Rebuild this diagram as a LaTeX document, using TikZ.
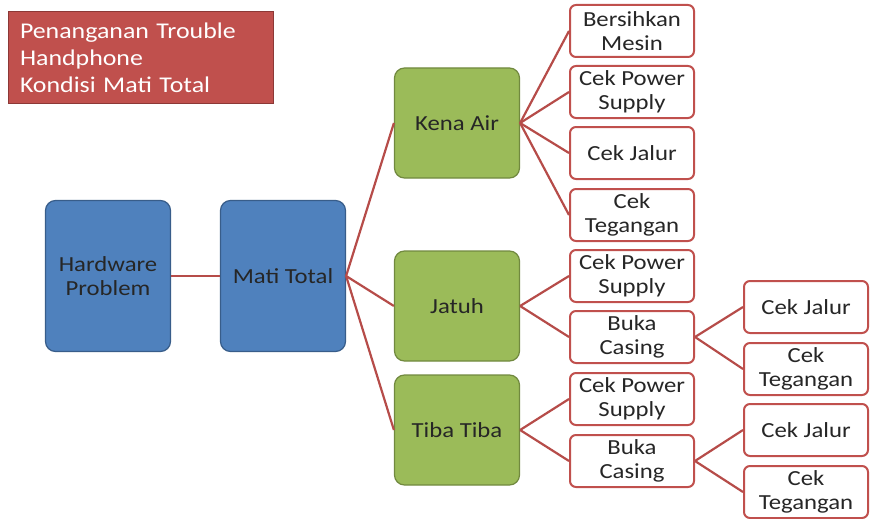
\documentclass[tikz,border=0pt]{standalone}
\usepackage{fontspec}
\setmainfont{Carlito}[FakeStretch=1.15]
\usetikzlibrary{positioning}

\definecolor{hwblue}{HTML}{4F81BD}
\definecolor{hwblueline}{HTML}{385D8A}
\definecolor{hwgreen}{HTML}{9BBB59}
\definecolor{hwgreenline}{HTML}{71893F}
\definecolor{hwred}{HTML}{C0504D}
\definecolor{hwredline}{HTML}{8C3836}

\begin{document}
\begin{tikzpicture}[
  x=1pt, y=-1pt,
  every node/.style={font=\fontsize{21.5}{24}\selectfont},
  bluebox/.style={
    draw=hwblueline, fill=hwblue, line width=1.2pt, rounded corners=10pt,
    minimum width=125pt, minimum height=151pt,
    align=center, text=black!85, inner sep=2pt
  },
  greenbox/.style={
    draw=hwgreenline, fill=hwgreen, line width=1.2pt, rounded corners=10pt,
    minimum width=125pt, minimum height=110pt,
    align=center, text=black!85, inner sep=2pt
  },
  leaf/.style={
    draw=hwred, fill=white, line width=2pt, rounded corners=6pt,
    minimum width=124pt, minimum height=52pt,
    align=center, text=black!85, inner sep=1pt
  },
  link/.style={draw=hwred!95!black, line width=2.2pt},
]
\useasboundingbox (0,0) rectangle (870,519);

%% ── Title ─────────────────────────────────────────────────────────────────
\node[draw=hwredline, fill=hwred, line width=1pt, text=white, align=left,
      minimum width=265pt, minimum height=91pt, inner sep=0pt,
      font=\fontsize{22.5}{27}\selectfont, text width=241pt]
  (title) at (140.5,57.5)
  {Penanganan Trouble\\Handphone\\Kondisi Mati Total};

%% ── Main column ───────────────────────────────────────────────────────────
\node[bluebox] (hw)   at (108,276) {Hardware\\Problem};
\node[bluebox] (mati) at (283,276) {Mati Total};

\node[greenbox] (kena)  at (457,123) {Kena Air};
\node[greenbox] (jatuh) at (457,306) {Jatuh};
\node[greenbox] (tiba)  at (457,430) {Tiba Tiba};

%% ── Kena Air branch ───────────────────────────────────────────────────────
\node[leaf] (kBersih) at (632,31)  {Bersihkan\\Mesin};
\node[leaf] (kPower)  at (632,92)  {Cek Power\\Supply};
\node[leaf] (kJalur)  at (632,153) {Cek Jalur};
\node[leaf] (kTeg)    at (632,215) {Cek\\Tegangan};

%% ── Jatuh branch ──────────────────────────────────────────────────────────
\node[leaf] (jPower)  at (632,276) {Cek Power\\Supply};
\node[leaf] (jBuka)   at (632,337) {Buka\\Casing};
\node[leaf] (jJalur)  at (806,307) {Cek Jalur};
\node[leaf] (jTeg)    at (806,369) {Cek\\Tegangan};

%% ── Tiba Tiba branch ──────────────────────────────────────────────────────
\node[leaf] (tPower)  at (632,399) {Cek Power\\Supply};
\node[leaf] (tBuka)   at (632,461) {Buka\\Casing};
\node[leaf] (tJalur)  at (806,430) {Cek Jalur};
\node[leaf] (tTeg)    at (806,492) {Cek\\Tegangan};

%% ── Connectors ────────────────────────────────────────────────────────────
\draw[link] (hw.east) -- (mati.west);
\foreach \n in {kena, jatuh, tiba}
  \draw[link] (mati.east) -- (\n.west);
\foreach \n in {kBersih, kPower, kJalur, kTeg}
  \draw[link] (kena.east) -- (\n.west);
\foreach \n in {jPower, jBuka}
  \draw[link] (jatuh.east) -- (\n.west);
\foreach \n in {tPower, tBuka}
  \draw[link] (tiba.east) -- (\n.west);
\foreach \n in {jJalur, jTeg}
  \draw[link] (jBuka.east) -- (\n.west);
\foreach \n in {tJalur, tTeg}
  \draw[link] (tBuka.east) -- (\n.west);

\end{tikzpicture}
\end{document}
